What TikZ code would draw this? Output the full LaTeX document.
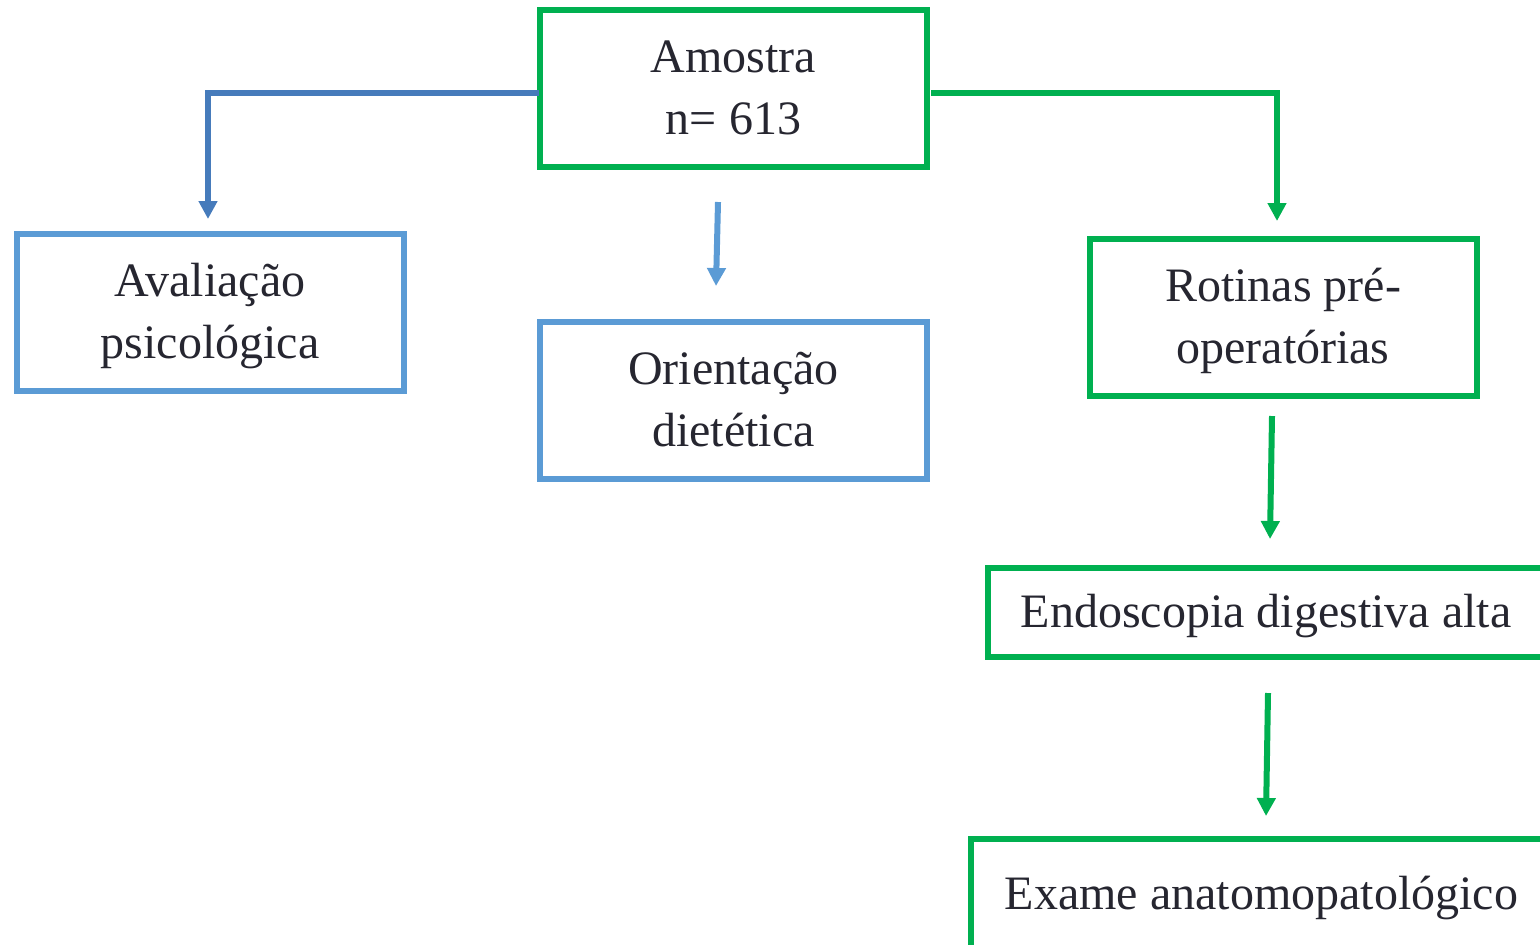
\documentclass[tikz,border=0pt]{standalone}
\usepackage{fontspec}
\setmainfont{Liberation Serif}
\usetikzlibrary{arrows.meta}
\definecolor{grn}{HTML}{00B050}
\definecolor{lblue}{HTML}{5B9BD5}
\definecolor{dblue}{HTML}{467BBB}
\definecolor{txt}{RGB}{38,38,48}
\newcommand{\topst}{\rule{0pt}{21pt}}
\newcommand{\botst}{\rule[-6pt]{0pt}{0pt}}
\tikzset{
  box/.style={draw=#1, line width=3pt, fill=white, align=center, inner sep=0pt,
    text=txt, font=\fontsize{24}{31}\selectfont},
  bigbox/.style={box=#1, minimum width=193.5pt, minimum height=78.5pt},
  conn/.style={draw=#1, line width=3pt, -{Triangle[width=9pt,length=9pt]}}
}
\begin{document}
\begin{tikzpicture}[x=0.5pt,y=-0.5pt]
\useasboundingbox (0,0) rectangle (1540,944);
\clip (0,0) rectangle (1540,944);
% connectors drawn first so that box borders lie on top
\coordinate (a1) at (208,93);
\coordinate (a1e) at (208,219);
\coordinate (o1) at (718,202);
\coordinate (o1e) at (716,286);
\coordinate (r1) at (1277,93);
\coordinate (r1e) at (1277,221);
\coordinate (e1) at (1272,416);
\coordinate (e1e) at (1270,539);
\coordinate (x1) at (1268,693);
\coordinate (x1e) at (1266,816);
\node[bigbox=grn] (amostra) at (733.5,88.5) {\topst Amostra\\n= 613\botst};
\node[bigbox=lblue] (aval) at (210,312) {\topst Avaliação\\psicológica\botst};
\node[bigbox=lblue] (orient) at (733.5,400.5) {\topst Orientação\\dietética\botst};
\node[bigbox=grn] (rotinas) at (1283,317.5) {\topst Rotinas pré-\\operatórias\botst};
\node[box=grn, minimum width=278pt, minimum height=44.5pt] (endo) at (1266,612.5) {\topst Endoscopia digestiva alta\botst};
\node[box=grn, minimum width=291pt, minimum height=55.5pt] (exame) at (1261.5,894.5) {\topst Exame anatomopatológico\botst};
\draw[conn=dblue] ([xshift=1pt]amostra.west |- a1) -- (a1) -- (a1e);
\draw[conn=lblue] (o1) -- (o1e);
\draw[conn=grn] ([xshift=0.5pt]amostra.east |- r1) -- (r1) -- (r1e);
\draw[conn=grn] (e1) -- (e1e);
\draw[conn=grn] (x1) -- (x1e);
\end{tikzpicture}
\end{document}
